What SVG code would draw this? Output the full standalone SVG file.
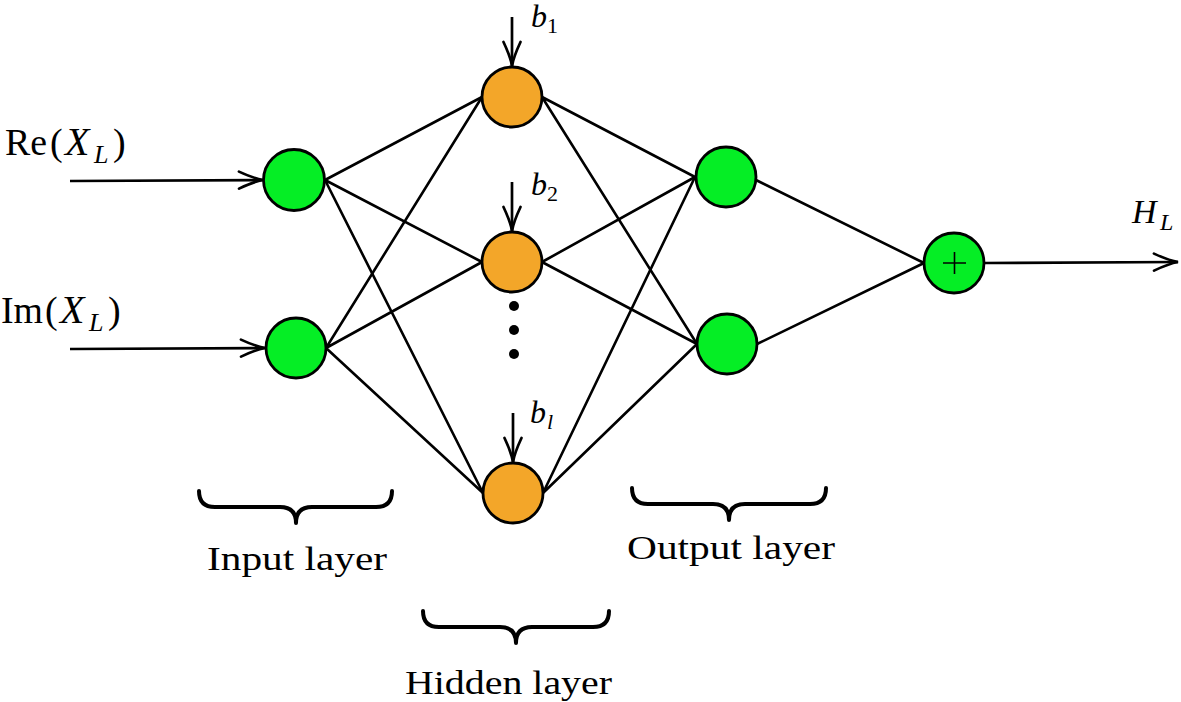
<svg xmlns="http://www.w3.org/2000/svg" width="1181" height="702" viewBox="0 0 1181 702">
<style>
.g{fill:#05ee25;stroke:#000;stroke-width:2.8}
.o{fill:#f3a629;stroke:#000;stroke-width:2.8}
.e{stroke:#000;stroke-width:2.6;fill:none}
.a{stroke:#000;stroke-width:2.7;fill:none;marker-end:url(#arr)}
.br{stroke:#000;stroke-width:4;fill:none;stroke-linecap:round;stroke-linejoin:round}
.t{font-family:"Liberation Serif","DejaVu Serif",serif;fill:#000}
.i{font-style:italic}
</style>
<defs>
<marker id="arr" viewBox="-26 -12 28 24" refX="0" refY="0" markerWidth="28" markerHeight="24" markerUnits="userSpaceOnUse" orient="auto" overflow="visible">
<path d="M-24,-8.5 Q-9,-1.5 0,0 Q-9,1.5 -24,8.5" fill="none" stroke="#000" stroke-width="2.7" stroke-linecap="round"/>
</marker>
</defs>
<g id="connectors">
<path class="e" d="M325,180 L482,97 M325,180 L482,262 M325,180 L483,493"/>
<path class="e" d="M326,348 L482,97 M326,348 L482,262 M326,348 L483,493"/>
<path class="e" d="M542,97 L695,177 M542,97 L697,344"/>
<path class="e" d="M542,262 L695,177 M542,262 L697,344"/>
<path class="e" d="M543,493 L695,177 M543,493 L697,344"/>
<path class="e" d="M756,180 L924,263 M757,344 L924,263"/>
<path class="a" d="M70,181 L263,180"/>
<path class="a" d="M70,349 L265,348"/>
<path class="a" d="M512,17 L512,66"/>
<path class="a" d="M512,182 L512,231"/>
<path class="a" d="M513,413 L513,462"/>
<path class="a" d="M985,263 L1178,262"/>
</g>
<g id="in1"><circle class="g" cx="294" cy="180" r="30.5"/></g>
<g id="in2"><circle class="g" cx="296" cy="348" r="30"/></g>
<g id="h1"><circle class="o" cx="512" cy="97" r="30"/></g>
<g id="h2"><circle class="o" cx="512" cy="262" r="30"/></g>
<g id="dots"><circle cx="514" cy="306" r="5"/><circle cx="514" cy="330" r="5"/><circle cx="514" cy="354" r="5"/></g>
<g id="hl"><circle class="o" cx="513" cy="493" r="30"/></g>
<g id="o1"><circle class="g" cx="726" cy="177" r="30"/></g>
<g id="o2"><circle class="g" cx="727" cy="344" r="30"/></g>
<g id="sum"><circle class="g" cx="954" cy="263" r="30"/><path d="M943,263 H966 M954.5,252 V274" stroke="#000" stroke-width="1.6"/></g>
<g id="labels">
<text class="t" font-size="38" x="5" y="155" textLength="42" lengthAdjust="spacingAndGlyphs">Re</text>
<text class="t" font-size="38" x="50" y="155">(</text>
<text class="t i" font-size="40" x="65" y="155">X</text>
<text class="t i" font-size="26" x="94" y="163">L</text>
<text class="t" font-size="38" x="113" y="155">)</text>
<text class="t" font-size="38" x="1" y="323" textLength="42" lengthAdjust="spacingAndGlyphs">Im</text>
<text class="t" font-size="38" x="45" y="323">(</text>
<text class="t i" font-size="40" x="60" y="323">X</text>
<text class="t i" font-size="26" x="89" y="331">L</text>
<text class="t" font-size="38" x="108" y="323">)</text>
<text class="t" font-size="32" y="27"><tspan x="531" class="i">b</tspan><tspan x="547" y="33" font-size="22">1</tspan></text>
<text class="t" font-size="32" y="195"><tspan x="531" class="i">b</tspan><tspan x="547" y="201" font-size="22">2</tspan></text>
<text class="t" font-size="32" y="423"><tspan x="530" class="i">b</tspan><tspan x="547" y="429" font-size="22" class="i">l</tspan></text>
<text class="t i" font-size="34" y="223"><tspan x="1132">H</tspan><tspan x="1160" y="230" font-size="24">L</tspan></text>
<text class="t" font-size="33" x="207" y="570" textLength="180" lengthAdjust="spacingAndGlyphs">Input layer</text>
<text class="t" font-size="33" x="405" y="694" textLength="207" lengthAdjust="spacingAndGlyphs">Hidden layer</text>
<text class="t" font-size="33" x="627" y="559" textLength="208" lengthAdjust="spacingAndGlyphs">Output layer</text>
</g>
<g id="braces">
<path class="br" d="M199,491 Q199,507 215,507 L280,507 Q296,507 296,523 Q296,507 312,507 L376,507 Q392,507 392,491"/>
<path class="br" d="M423,611 Q423,627 439,627 L500,627 Q516,627 516,643 Q516,627 532,627 L593,627 Q609,627 609,611"/>
<path class="br" d="M632,488 Q632,504 648,504 L713,504 Q729,504 729,520 Q729,504 745,504 L810,504 Q826,504 826,488"/>
</g>
</svg>
